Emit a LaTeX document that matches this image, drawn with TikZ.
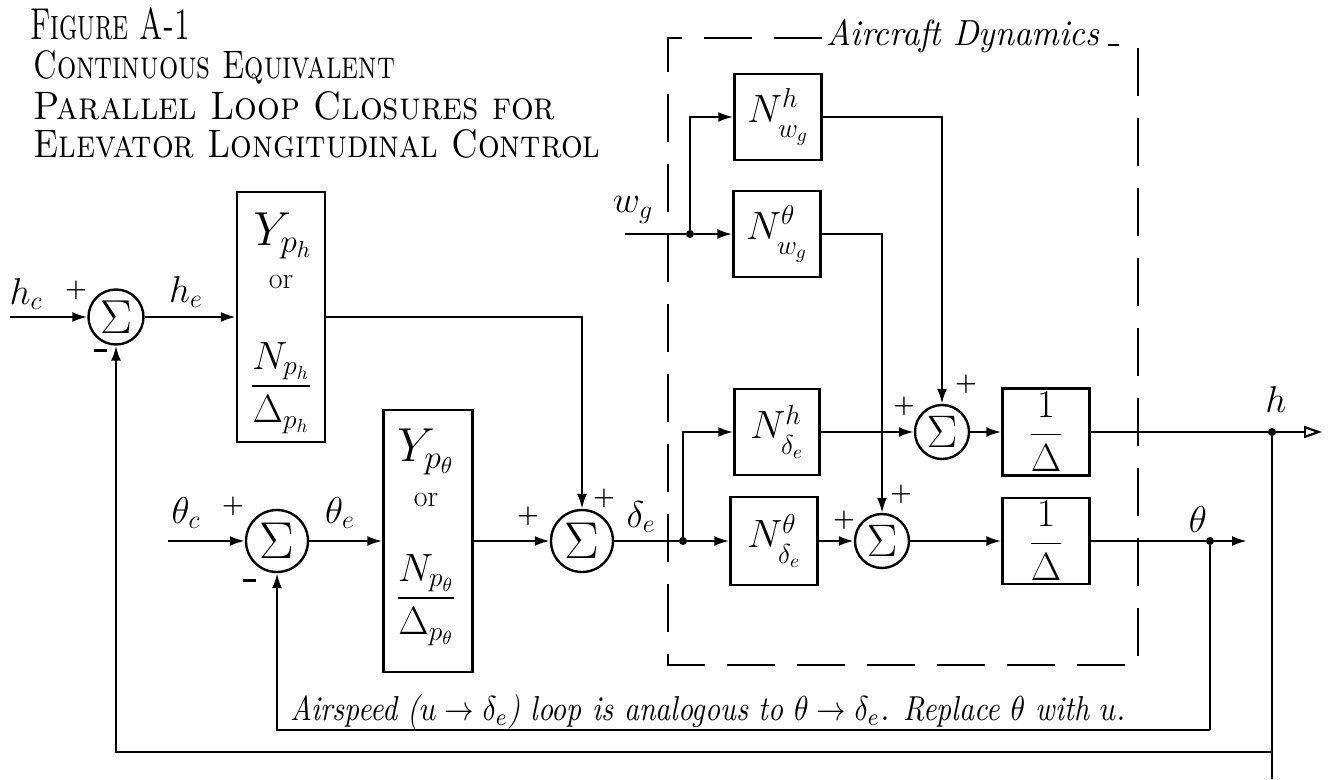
\documentclass[tikz,border=0pt]{standalone}
\usepackage{amsmath}
\usepackage{fontspec}
\usepackage{graphicx}
\usetikzlibrary{arrows.meta}
\newcommand{\Sc}[2]{\scalebox{#1}{#2}}
\newcommand{\Lsub}[1]{\raisebox{-3pt}{$\scriptstyle #1$}}
\begin{document}
\begin{tikzpicture}[x=1pt,y=-1pt,
  wire/.style={line width=2.4pt},
  arr/.style={wire,-{Latex[length=15pt,width=10pt]}},
  oarr/.style={wire,-{Triangle[open,length=18pt,width=12pt,line width=2.2pt]}},
  blk/.style={draw,line width=2.4pt,inner sep=0pt,font=\fontsize{20}{24}\selectfont},
  sumn/.style={circle,draw,line width=2.4pt,inner sep=0pt,minimum size=#1,font=\fontsize{20}{24}\selectfont},
  sumn/.default=56pt,
  lbl/.style={font=\fontsize{20}{24}\selectfont,inner sep=0pt},
  sgn/.style={font=\fontsize{25}{25}\selectfont\bfseries,inner sep=0pt},
  btext/.style={font=\fontsize{20}{24}\selectfont,inner sep=0pt},
  dot/.style={circle,fill,inner sep=0pt,minimum size=8pt},
  dbox/.style={line width=2.6pt,dash pattern=on 48pt off 22pt},
  ttl/.style={anchor=west,inner sep=0pt}
]
\useasboundingbox (0,0) rectangle (1330,779);

% title
\node[ttl] (t1) at (30,24) {\resizebox{160pt}{32pt}{\scshape Figure A-1}};
\node[ttl] (t2) at (33,67) {\resizebox{362pt}{28pt}{\scshape Continuous Equivalent}};
\node[ttl] (t3) at (33,106) {\resizebox{522pt}{28pt}{\scshape Parallel Loop Closures for}};
\node[ttl] (t4) at (33,144) {\resizebox{567pt}{28pt}{\scshape Elevator Longitudinal Control}};

% aircraft dynamics box
\coordinate (b1) at (822,38);
\coordinate (b2) at (668,38);
\coordinate (b3) at (668,665);
\coordinate (b4) at (1138,665);
\coordinate (b5) at (1138,45);
\coordinate (b6) at (1108,45);
\draw[dbox] (b1) -- (b2) -- (b3) -- (b4) -- (b5) -- (b6);
\node[inner sep=0pt] (adyn) at (963,36) {\resizebox{272pt}{26pt}{\itshape Aircraft Dynamics}};

% pilot part
\node[sumn=55pt] (s1) at (116,317) {\Sc{2.3}{$\Sigma$}};
\node[blk,minimum width=88pt,minimum height=250pt] (yph) at (281,317) {};
\node[btext] (yph1) at (283,236) {\Sc{2.3}{$Y_{p_h}$}};
\node[btext] (yph2) at (281,282) {\Sc{1.5}{or}};
\node[btext] (yph3) at (281,388) {\Sc{1.9}{$\dfrac{N_{p_h}}{\Delta_{p_h}}$}};

\node[sumn=62pt] (s2) at (277,541) {\Sc{2.5}{$\Sigma$}};
\node[blk,minimum width=89pt,minimum height=262pt] (ype) at (428,541) {};
\node[btext] (ype1) at (426,452) {\Sc{2.3}{$Y_{p_\theta}$}};
\node[btext] (ype2) at (426,500) {\Sc{1.5}{or}};
\node[btext] (ype3) at (426,600) {\Sc{1.9}{$\dfrac{N_{p_\theta}}{\Delta_{p_\theta}}$}};

\node[sumn=62pt] (s3) at (582,541) {\Sc{2.5}{$\Sigma$}};

% aircraft blocks
\node[blk,minimum width=87pt,minimum height=86pt] (nhwg) at (778,117) {\Sc{1.9}{$N^{h}_{\Lsub{w_g}}$}};
\node[blk,minimum width=87pt,minimum height=86pt] (ntwg) at (777,234) {\Sc{1.9}{$N^{\theta}_{\Lsub{w_g}}$}};
\node[blk,minimum width=85pt,minimum height=86pt] (nhde) at (777,432) {\Sc{1.9}{$N^{h}_{\Lsub{\delta_e}}$}};
\node[blk,minimum width=87pt,minimum height=88pt] (ntde) at (774,541) {\Sc{1.9}{$N^{\theta}_{\Lsub{\delta_e}}$}};

\node[sumn=54pt] (sh) at (942,432) {\Sc{2.2}{$\Sigma$}};
\node[sumn=54pt] (st) at (882,541) {\Sc{2.2}{$\Sigma$}};

\node[blk,minimum width=87pt,minimum height=87pt] (d1) at (1046,432) {\Sc{1.9}{$\dfrac{1}{\Delta}$}};
\node[blk,minimum width=87pt,minimum height=86pt] (d2) at (1046,541) {\Sc{1.9}{$\dfrac{1}{\Delta}$}};

% coordinates
\coordinate (hin) at (10,317);
\coordinate (tin) at (168,541);
\coordinate (wgin) at (625,234);
\coordinate (hout) at (1322,432);
\coordinate (tout) at (1247,541);
\coordinate (fbt) at (1210,730);
\coordinate (fbh) at (1272,752);
\coordinate (hend) at (1272,779);
\node[dot] (jw) at (690,234) {};
\node[dot] (jd) at (683,541) {};
\node[dot] (jh) at (1272,432) {};
\node[dot] (jt) at (1210,541) {};

% wires
\draw[arr] (hin) -- (s1.west);
\draw[arr] (s1.east) -- (yph.west);
\draw[arr] (yph.east) -| (s3.north);
\draw[arr] (tin) -- (s2.west);
\draw[arr] (s2.east) -- (ype.west);
\draw[arr] (ype.east) -- (s3.west);
\draw[wire] (s3.east) -- (jd);
\draw[arr] (jd) -- (ntde.west);
\draw[arr] (jd) |- (nhde.west);
\draw[wire] (wgin) -- (jw);
\draw[arr] (jw) -- (ntwg.west);
\draw[arr] (jw) |- (nhwg.west);
\draw[arr] (nhwg.east) -| (sh.north);
\draw[arr] (ntwg.east) -| (st.north);
\draw[arr] (nhde.east) -- (sh.west);
\draw[arr] (ntde.east) -- (st.west);
\draw[arr] (sh.east) -- (d1.west);
\draw[arr] (st.east) -- (d2.west);
\draw[oarr] (d1.east) -- (hout);
\draw[arr] (d2.east) -- (tout);
\draw[wire] (jt) -- (fbt);
\draw[arr] (fbt) -| (s2.south);
\draw[wire] (jh) -- (hend);
\draw[arr] (fbh) -| (s1.south);

% labels
\node[lbl] (lhc) at (26,294) {\Sc{1.8}{$h_c$}};
\node[sgn] (p1) at (76,290) {+};
\node[inner sep=0pt] (m1) at (100,350) {\rule{13pt}{3pt}};
\node[lbl] (lhe) at (186,292) {\Sc{1.8}{$h_e$}};
\node[lbl] (ltc) at (186,513) {\Sc{1.8}{$\theta_c$}};
\node[sgn] (p2) at (233,506) {+};
\node[inner sep=0pt] (m2) at (249,580) {\rule{13pt}{3pt}};
\node[lbl] (lte) at (340,513) {\Sc{1.8}{$\theta_e$}};
\node[sgn] (p3) at (528,516) {+};
\node[sgn] (p4) at (604,498) {+};
\node[lbl] (lde) at (641,517) {\Sc{1.8}{$\delta_e$}};
\node[lbl] (lwg) at (633,210) {\Sc{1.8}{$w_g$}};
\node[sgn] (p5) at (966,384) {+};
\node[sgn] (p6) at (904,406) {+};
\node[sgn] (p7) at (901,494) {+};
\node[sgn] (p8) at (844,520) {+};
\node[lbl] (lh) at (1276,400) {\Sc{1.8}{$h$}};
\node[lbl] (lt) at (1198,520) {\Sc{1.8}{$\theta$}};

% caption
\node[inner sep=0pt] (cap) at (708,712) {\resizebox{835pt}{26pt}{\itshape Airspeed ($u\rightarrow\delta_e$) loop is analogous to $\theta\rightarrow\delta_e$. Replace $\theta$ with $u$.}};
\end{tikzpicture}
\end{document}
